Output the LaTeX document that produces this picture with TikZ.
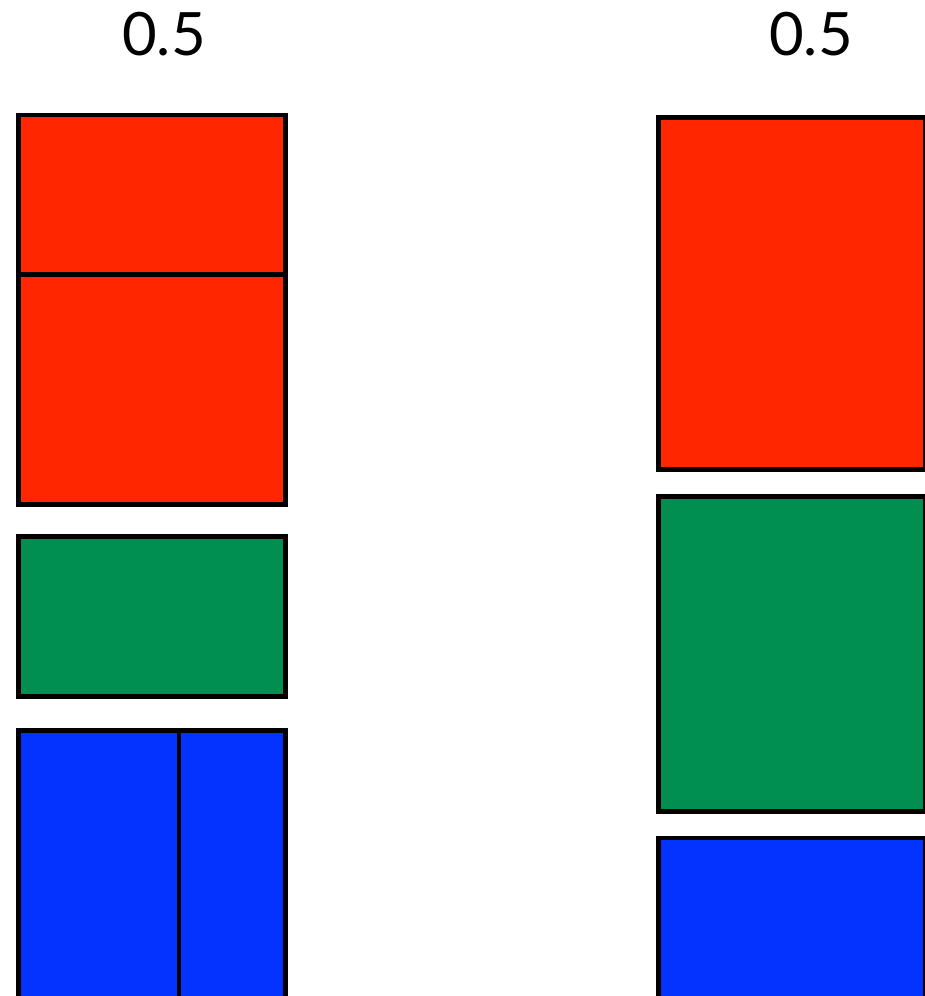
\documentclass[tikz,border=0pt]{standalone}
\usepackage{fontspec}
\setmainfont{Lato}
\usepackage{xcolor}
\usepackage{tikz}
\definecolor{boxred}{HTML}{FF2600}
\definecolor{boxgreen}{HTML}{008F51}
\definecolor{boxblue}{HTML}{0433FF}

\begin{document}
\begin{tikzpicture}[
            x=0.01cm, y=-0.01cm,
            cell/.style={draw=black, line width=1.4pt, inner sep=0pt, outer sep=0pt},
            every node/.style={font=\fontsize{17}{20}\selectfont},
        ]
            \useasboundingbox (0,0) rectangle (925,996);
            % labels
            \node[inner sep=0pt] (llabel) at (164,34) {0.5};
            \node[inner sep=0pt] (rlabel) at (811,34) {0.5};
            % left column
            \node[cell, fill=boxred, minimum width=2.665cm, minimum height=1.6cm]   (lredtop)   at (152.25,195)   {};
            \node[cell, fill=boxred, minimum width=2.665cm, minimum height=2.29cm]  (lredbot)   at (152.25,389.5) {};
            \node[cell, fill=boxgreen, minimum width=2.665cm, minimum height=1.6cm] (lgreen)    at (152.25,616.5) {};
            \node[cell, fill=boxblue, minimum width=1.6cm, minimum height=2.79cm]   (lblueleft) at (99,870.5)     {};
            \node[cell, fill=boxblue, minimum width=1.065cm, minimum height=2.79cm] (lblueright) at (232.25,870.5) {};
            % right column
            \node[cell, fill=boxred, minimum width=2.665cm, minimum height=3.515cm]   (rred)   at (792.25,293.75) {};
            \node[cell, fill=boxgreen, minimum width=2.665cm, minimum height=3.145cm] (rgreen) at (792.25,653.75) {};
            \node[cell, fill=boxblue, minimum width=2.665cm, minimum height=1.72cm]   (rblue)  at (792.25,924)    {};
        \end{tikzpicture}
\end{document}
